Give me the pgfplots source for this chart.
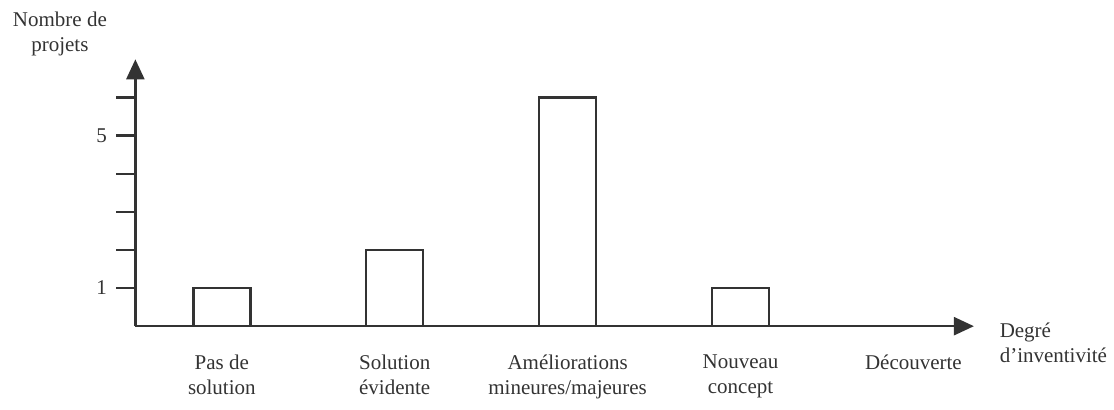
\documentclass[border=0pt]{standalone}
\usepackage{pgfplots}
\pgfplotsset{compat=1.18}
\usepackage{fontspec}
\setmainfont{Liberation Serif}
\usetikzlibrary{arrows.meta}
\definecolor{ink}{HTML}{333333}
\begin{document}
\fontsize{10.5}{12.5}\selectfont
\begin{tikzpicture}
\begin{axis}[
  scale only axis,
  width=419.5pt, height=133.5pt,
  xmin=-0.5, xmax=4.35,
  ymin=0, ymax=7,
  axis x line=bottom, axis y line=left,
  axis line style={ink, line width=1.2pt},
  x axis line style={-{Triangle[width=9pt,length=10pt]}},
  y axis line style={-{Triangle[width=9pt,length=10pt]}},
  xtick={0,1,2,3,4},
  xticklabels={{Pas de\\solution},{Solution\\évidente},{Améliorations\\mineures/majeures},{Nouveau\\concept},{Découverte}},
  x tick style={draw=none},
  xticklabel style={align=center, anchor=north, yshift=-1pt, text=ink, font=\fontsize{10.5}{12.5}\selectfont},
  ytick={1,2,3,4,5,6},
  yticklabels={1,,,,5,},
  tick align=outside,
  major tick length=9.5pt,
  y tick style={ink, line width=1.2pt},
  yticklabel style={text=ink, font=\fontsize{10.5}{12.5}\selectfont, xshift=-1pt},
  clip=false,
]
\addplot[ybar, bar width=28.5pt, fill=white, draw=ink, line width=1.2pt]
  coordinates {(0,1) (1,2) (2,6) (3,1)};
\node[align=center, text=ink, font=\fontsize{10.5}{12.5}\selectfont] at (axis description cs:-0.09,1.095) {Nombre de\\projets};
\node[align=left, anchor=west, text=ink, font=\fontsize{10.5}{12.5}\selectfont] at (axis description cs:1.022,-0.062) {Degré\\d’inventivité};
\end{axis}
\path ([yshift=2.5pt]current bounding box.north) ([yshift=-2pt]current bounding box.south)
  ([xshift=-3pt]current bounding box.west);
\end{tikzpicture}
\end{document}
